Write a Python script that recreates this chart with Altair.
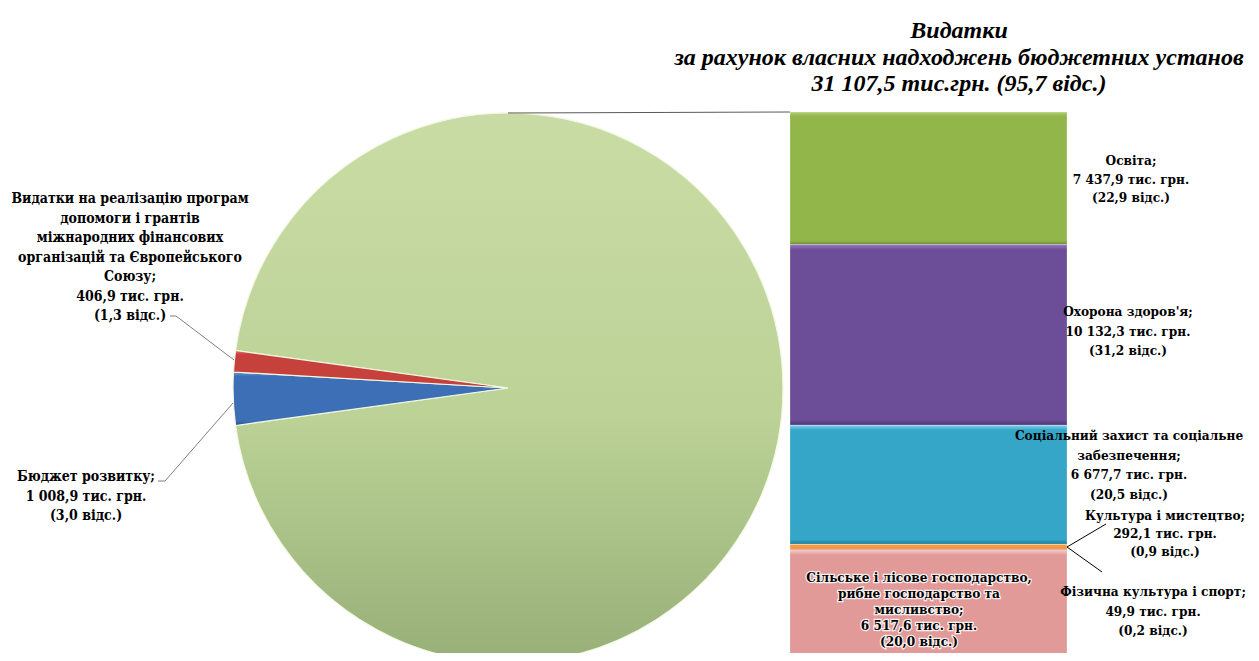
import math
import altair as alt
import pandas as pd

# ---------------- data ----------------
pie_names = [
    "Видатки за рахунок власних надходжень бюджетних установ",
    "Бюджет розвитку",
    "Видатки на реалізацію програм\nдопомоги і грантів\nміжнародних фінансових\nорганізацій та Європейського\nСоюзу",
]
pie_values = [31107.5, 1008.9, 406.9]
pie_pcts = [95.7, 3.0, 1.3]

bar_names = [
    "Освіта",
    "Охорона здоров'я",
    "Соціальний захист та соціальне\nзабезпечення",
    "Культура і мистецтво",
    "Фізична культура і спорт",
    "Сільське і лісове господарство,\nрибне господарство та\nмисливство",
]
bar_values = [7437.9, 10132.3, 6677.7, 292.1, 49.9, 6517.6]
bar_pcts = [22.9, 31.2, 20.5, 0.9, 0.2, 20.0]

title_lines = ["Видатки", "за рахунок власних надходжень бюджетних установ"]


def fmt(v):
    return f"{v:,.1f}".replace(",", " ").replace(".", ",")


def pct(p):
    return f"{p:.1f}".replace(".", ",")


def label(name, v, p):
    return f"{name};\n{fmt(v)} тис. грн.\n({pct(p)} відс.)"


# ---------------- styles ----------------
FONT = "DejaVu Serif Condensed, DejaVu Serif"
FS = 14
FSR = 13.5


def vgrad(c_top, c_mid, c_bot, edge=0.03):
    return {
        "gradient": "linear", "x1": 0, "y1": 0, "x2": 0, "y2": 1,
        "stops": [
            {"offset": 0, "color": c_top},
            {"offset": edge, "color": c_mid},
            {"offset": 1 - edge, "color": c_mid},
            {"offset": 1, "color": c_bot},
        ],
    }


pie_fills = [
    {"gradient": "linear", "x1": 0, "y1": 0, "x2": 0, "y2": 1,
     "stops": [{"offset": 0, "color": "#C9DCA5"},
               {"offset": 0.55, "color": "#BCD296"},
               {"offset": 1, "color": "#97B078"}]},
    vgrad("#6E9BDB", "#3D6FB6", "#24508F", 0.08),
    vgrad("#E8807C", "#C6403C", "#962C29", 0.1),
]
bar_fills = [
    vgrad("#B5D37A", "#92B64A", "#6C8B30"),
    vgrad("#9478BE", "#6C4E98", "#4F3673"),
    vgrad("#7FD3EE", "#35A6C7", "#1F7C99", 0.04),
    vgrad("#FBC07F", "#F39A42", "#C7711F", 0.2),
    vgrad("#D46A66", "#C0504D", "#933734", 0.2),
    vgrad("#F5C4C3", "#E29A99", "#C07676", 0.04),
]


def fill_chain(fills):
    c = alt.when(alt.datum.i == 0).then(alt.value(fills[0]))
    for k in range(1, len(fills) - 1):
        c = c.when(alt.datum.i == k).then(alt.value(fills[k]))
    return c.otherwise(alt.value(fills[-1]))


# ---------------- pie ----------------
pie_df = pd.DataFrame({"i": list(range(len(pie_values))),
                       "name": [n.replace("\n", " ") for n in pie_names],
                       "value": pie_values})
total = sum(pie_values)
small = sum(pie_values[1:]) / total * 2 * math.pi
start = 1.5 * math.pi + small / 2

pie = alt.Chart(pie_df).mark_arc(
    outerRadius=275, stroke="#F2F8E2", strokeWidth=1.2
).encode(
    theta=alt.Theta("value:Q", stack=True,
                    scale=alt.Scale(range=[start, start + 2 * math.pi])),
    order=alt.Order("i:Q"),
    fill=fill_chain(pie_fills),
    x=alt.value(500),
    y=alt.value(380),
)

# ---------------- bar ----------------
bar_df = pd.DataFrame({"i": list(range(len(bar_values))),
                       "name": [n.replace("\n", " ") for n in bar_names],
                       "value": bar_values})
px_per_unit = 0.01783
top_px = 104
H = 645
y_dom = [-top_px / px_per_unit, (H - top_px) / px_per_unit]

bar = alt.Chart(bar_df).transform_stack(
    stack="value", groupby=[], as_=["v0", "v1"], sort=[alt.SortField("i")]
).mark_rect(clip=True, stroke="#FFFFFF", strokeWidth=0.4, strokeOpacity=0.6).encode(
    x=alt.value(782),
    x2=alt.value(1059),
    y=alt.Y("v0:Q", axis=None,
            scale=alt.Scale(domain=y_dom, reverse=True, nice=False, zero=False)),
    y2="v1:Q",
    fill=fill_chain(bar_fills),
)

# ---------------- lines ----------------
one = pd.DataFrame({"k": [0]})


def seg(x1, y1, x2, y2, color, w=1.0):
    return alt.Chart(one).mark_rule(color=color, strokeWidth=w).encode(
        x=alt.value(x1), y=alt.value(y1), x2=alt.value(x2), y2=alt.value(y2))


lines = [
    seg(500, 105, 782, 104, "#595959"),
    seg(162, 308, 168, 308, "#7F7F7F"),
    seg(168, 308, 226, 352, "#7F7F7F"),
    seg(150, 473, 157, 473, "#7F7F7F"),
    seg(157, 473, 225, 395, "#7F7F7F"),
    seg(1059, 539, 1098, 516, "#000000"),
    seg(1059, 539, 1094, 564, "#000000"),
]


# ---------------- texts ----------------
def txt(text, x, y, lh=19.5, halo=False, size=FS):
    layers = []
    df = pd.DataFrame({"t": [text]})
    base = dict(align="center", baseline="top", lineBreak="\n", font=FONT,
                fontSize=size, fontWeight="bold", lineHeight=lh)
    if halo:
        layers.append(alt.Chart(df).mark_text(
            **base, stroke="#FFFFFF", strokeWidth=2.5, strokeOpacity=0.85,
            color="#FFFFFF").encode(text="t:N", x=alt.value(x), y=alt.value(y)))
    layers.append(alt.Chart(df).mark_text(**base, color="#000000").encode(
        text="t:N", x=alt.value(x), y=alt.value(y)))
    return layers


texts = []
texts += txt(label(pie_names[2], pie_values[2], pie_pcts[2]), 122, 184)
texts += txt(label(pie_names[1], pie_values[1], pie_pcts[1]), 78, 462)
texts += txt(label(bar_names[0], bar_values[0], bar_pcts[0]), 1123, 146, lh=18.5, size=FSR)
texts += txt(label(bar_names[1], bar_values[1], bar_pcts[1]), 1120, 297, size=FSR)
texts += txt(label(bar_names[2], bar_values[2], bar_pcts[2]), 1121, 421, size=FSR)
texts += txt(label(bar_names[3], bar_values[3], bar_pcts[3]), 1157, 501, lh=18, size=FSR)
texts += txt(label(bar_names[4], bar_values[4], bar_pcts[4]), 1145, 577, size=FSR)
texts += txt(label(bar_names[5], bar_values[5], bar_pcts[5]), 911, 563, lh=16, halo=True, size=FSR)

title_text = "\n".join(title_lines + [f"{fmt(pie_values[0])} тис.грн. ({pct(pie_pcts[0])} відс.)"])
title = alt.Chart(pd.DataFrame({"t": [title_text]})).mark_text(
    align="center", baseline="top", lineBreak="\n", font="Liberation Serif",
    fontSize=24, fontWeight="bold", fontStyle="italic", lineHeight=26.5,
    color="#000000").encode(text="t:N", x=alt.value(951), y=alt.value(11))

chart = alt.layer(pie, bar, *lines, *texts, title).properties(
    width=1243, height=H, padding=0,
    autosize=alt.AutoSizeParams(type="none"),
).configure_view(stroke=None)

chart.save("out.html", embed_options={"renderer": "svg", "actions": False})
